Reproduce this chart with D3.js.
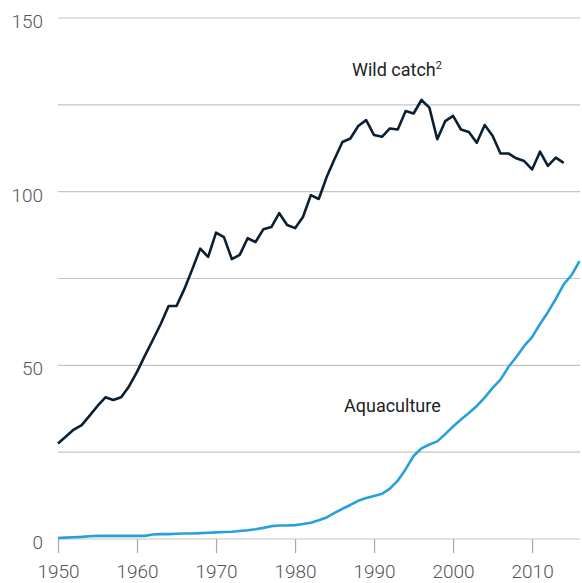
<!DOCTYPE html>
<html>
<head>
<meta charset="utf-8">
<script src="https://cdn.jsdelivr.net/npm/d3@7"></script>
<style>
  html, body { margin: 0; padding: 0; background: #fff; }
  svg { display: block; }
</style>
</head>
<body>
<div id="chart"></div>
<script>
const years = d3.range(1950, 2017);
const wildYears = d3.range(1950, 2015);
const wildCatch = [
  27.5, 29.5, 31.5, 32.8, 35.5, 38.3, 40.8, 40.0, 40.8, 44.0,
  48.1, 52.8, 57.3, 61.9, 67.1, 67.1, 72.0, 77.7, 83.6, 81.2,
  88.2, 86.9, 80.6, 81.8, 86.6, 85.5, 89.2, 89.8, 93.8, 90.4,
  89.5, 92.7, 99.0, 97.9, 104.2, 109.4, 114.3, 115.3, 118.9, 120.6,
  116.3, 115.8, 118.2, 117.9, 123.2, 122.5, 126.4, 124.2, 115.1, 120.3,
  121.8, 117.9, 117.2, 114.1, 119.2, 116.1, 111.0, 111.0, 109.6, 108.8,
  106.4, 111.5, 107.4, 109.8, 108.3
];
const aquaculture = [
  0.3, 0.4, 0.5, 0.6, 0.8, 0.9, 0.9, 0.9, 0.9, 0.9,
  0.9, 0.9, 1.3, 1.4, 1.4, 1.5, 1.6, 1.6, 1.7, 1.8,
  1.9, 2.0, 2.1, 2.3, 2.5, 2.8, 3.2, 3.7, 3.9, 3.9,
  4.0, 4.3, 4.7, 5.4, 6.2, 7.5, 8.7, 9.8, 11.0, 11.8,
  12.4, 13.0, 14.5, 16.8, 20.1, 23.9, 26.1, 27.2, 28.1, 30.2,
  32.4, 34.4, 36.3, 38.3, 40.7, 43.5, 45.9, 49.5, 52.4, 55.6,
  58.1, 61.9, 65.3, 69.1, 73.3, 76.0, 80.0
];
const yTicks = [0, 25, 50, 75, 100, 125, 150];
const yTickLabels = ["0", "", "50", "", "100", "", "150"];
const xTicks = [1950, 1960, 1970, 1980, 1990, 2000, 2010];

const W = 582, H = 583;
const svg = d3.select("#chart").append("svg").attr("width", W).attr("height", H);
const x = d3.scaleLinear().domain([1950, 2016]).range([58, 579.5]);
const y = d3.scaleLinear().domain([0, 150]).range([539, 18]);
const font = "Roboto, 'Liberation Sans', sans-serif";

// gridlines
svg.append("g").selectAll("line").data(yTicks).join("line")
  .attr("x1", 58).attr("x2", 580)
  .attr("y1", d => y(d)).attr("y2", d => y(d))
  .attr("stroke", "#c4c4c4").attr("stroke-width", 1.2);

// y labels
svg.append("g").selectAll("text").data(yTicks.map((d, i) => ({ v: d, t: yTickLabels[i] })).filter(d => d.t))
  .join("text")
  .attr("x", 43).attr("y", d => y(d.v) + 10)
  .attr("text-anchor", "end")
  .attr("font-family", font).attr("font-weight", 300).attr("font-size", 19)
  .attr("fill", "#555").text(d => d.t);

// x axis
const xAxis = d3.axisBottom(x).tickValues(xTicks).tickFormat(d3.format("d")).tickSize(14).tickPadding(12);
const gx = svg.append("g").attr("transform", `translate(0,${y(0)})`).call(xAxis);
gx.select(".domain").remove();
gx.selectAll(".tick line").attr("stroke", "#aaa").attr("stroke-width", 1.2);
gx.selectAll(".tick text").attr("font-family", font).attr("font-weight", 300)
  .attr("font-size", 19).attr("fill", "#555");

const line = d3.line().x(d => x(d[0])).y(d => y(d[1]));

svg.append("path").datum(years.map((yr, i) => [yr, aquaculture[i]]))
  .attr("d", line).attr("fill", "none")
  .attr("stroke", "#27a0dc").attr("stroke-width", 2.6).attr("stroke-linejoin", "round");

svg.append("path").datum(wildYears.map((yr, i) => [yr, wildCatch[i]]))
  .attr("d", line).attr("fill", "none")
  .attr("stroke", "#0b1f33").attr("stroke-width", 2.6).attr("stroke-linejoin", "round");

// labels
const wl = svg.append("text").attr("x", 352).attr("y", 76)
  .attr("font-family", font).attr("font-size", 18).attr("fill", "#222");
wl.append("tspan").text("Wild catch");
wl.append("tspan").attr("font-size", 11).attr("dy", -7).text("2");

svg.append("text").attr("x", 344).attr("y", 412)
  .attr("font-family", font).attr("font-size", 18).attr("fill", "#222")
  .text("Aquaculture");
</script>
</body>
</html>
